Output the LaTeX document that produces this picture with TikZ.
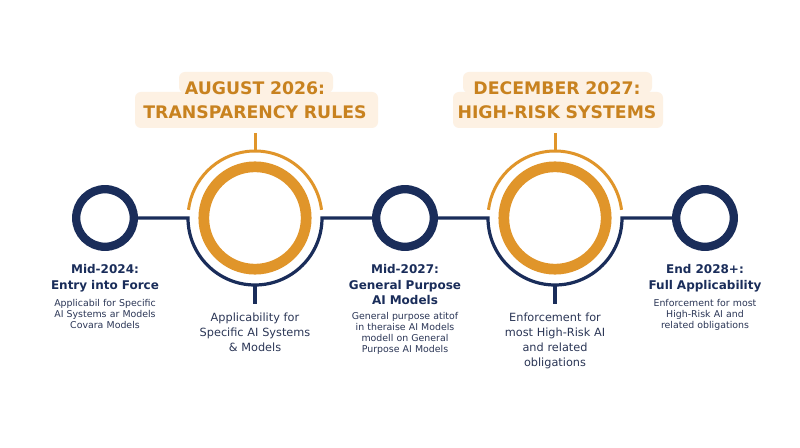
\documentclass[tikz,border=0pt]{standalone}
\usepackage{fontspec}
\setmainfont{DejaVu Sans}
\usetikzlibrary{calc}

\definecolor{navy}{HTML}{1A2D5A}
\definecolor{navytext}{HTML}{2B3656}
\definecolor{ringgold}{HTML}{E0952A}
\definecolor{titlegold}{HTML}{C8821F}
\definecolor{boxfill}{HTML}{FDF1E3}

\tikzset{
  smallring/.style={circle, draw=navy, line width=8.3pt, minimum size=57.6pt, inner sep=0pt},
  bigring/.style={circle, draw=ringgold, line width=10.7pt, minimum size=102.4pt, inner sep=0pt},
  navyline/.style={draw=navy, line width=3.2pt},
  goldline/.style={draw=ringgold, line width=3pt},
  headbox/.style={fill=boxfill, rounded corners=6pt},
  headline/.style={anchor=base, text width=260pt, align=center, inner sep=0pt, text=titlegold,
    font=\bfseries\fontsize{17.3}{23.3}\selectfont},
  datelabel/.style={anchor=base, text width=150pt, align=center, inner sep=0pt, text=navy,
    font=\bfseries\fontsize{12}{15.3}\selectfont},
  smalldesc/.style={anchor=base, text width=150pt, align=center, inner sep=0pt, text=navytext,
    font=\fontsize{9.4}{11}\selectfont},
  maindesc/.style={anchor=base, text width=150pt, align=center, inner sep=0pt, text=navytext,
    font=\fontsize{11.3}{14.8}\selectfont},
}

\begin{document}
\begin{tikzpicture}[x=1pt,y=1pt]

    \useasboundingbox[fill=white] (0,0) rectangle (800,447);

    % title boxes
    \fill[headbox] (179,354) rectangle (333,375);
    \fill[headbox] (135,319) rectangle (378,355);
    \fill[headbox] (463,354) rectangle (652,375);
    \fill[headbox] (453,319) rectangle (663,355);

    \node[headline] (transphead) at (255,352) {AUGUST 2026:\\TRANSPARENCY RULES};
    \node[headline] (riskhead) at (557,352) {DECEMBER 2027:\\HIGH-RISK SYSTEMS};

    % rings (milestones)
    \node[smallring] (entry) at (105,229) {};
    \node[bigring] (transp) at (255,229) {};
    \node[smallring] (gpai) at (405,229) {};
    \node[bigring] (highrisk) at (555,229) {};
    \node[smallring] (full) at (705,229) {};

    % timeline
    \draw[navyline] (entry.east) -- ($(transp)+(-67,0)$)
        arc[start angle=180, end angle=360, radius=67] -- (gpai.west);
    \draw[navyline] (gpai.east) -- ($(highrisk)+(-67,0)$)
        arc[start angle=180, end angle=360, radius=67] -- (full.west);

    % upper gold arcs and ticks
    \draw[goldline] ($(transp)+(7:67)$) arc[start angle=7, end angle=173, radius=67];
    \draw[goldline] ($(highrisk)+(7:67)$) arc[start angle=7, end angle=173, radius=67];
    \draw[goldline] ($(transp)+(0,67)$) -- ++(0,18);
    \draw[goldline] ($(highrisk)+(0,67)$) -- ++(0,18);

    % lower navy ticks
    \draw[navyline] ($(transp)+(0,-67)$) -- ++(0,-19);
    \draw[navyline] ($(highrisk)+(0,-67)$) -- ++(0,-19);

    % labels
    \node[datelabel] (entrylab) at (105,173) {Mid-2024:\\Entry into Force};
    \node[smalldesc] (entrytxt) at (105,140) {Applicabil for Specific\\AI Systems ar Models\\Covara Models};

    \node[maindesc] (transptxt) at (255,125.3) {Applicability for\\Specific AI Systems\\\& Models};

    \node[datelabel] (gpailab) at (405,173) {Mid-2027:\\General Purpose\\AI Models};
    \node[smalldesc] (gpaitxt) at (405,127.7) {General purpose atitof\\in theraise AI Models\\modell on General\\Purpose AI Models};

    \node[maindesc] (risktxt) at (555,125.3) {Enforcement for\\most High-Risk AI\\and related\\obligations};

    \node[datelabel] (fulllab) at (705,173) {End 2028+:\\Full Applicability};
    \node[smalldesc] (fulltxt) at (705,140.3) {Enforcement for most\\High-Risk AI and\\related obligations};

\end{tikzpicture}
\end{document}
